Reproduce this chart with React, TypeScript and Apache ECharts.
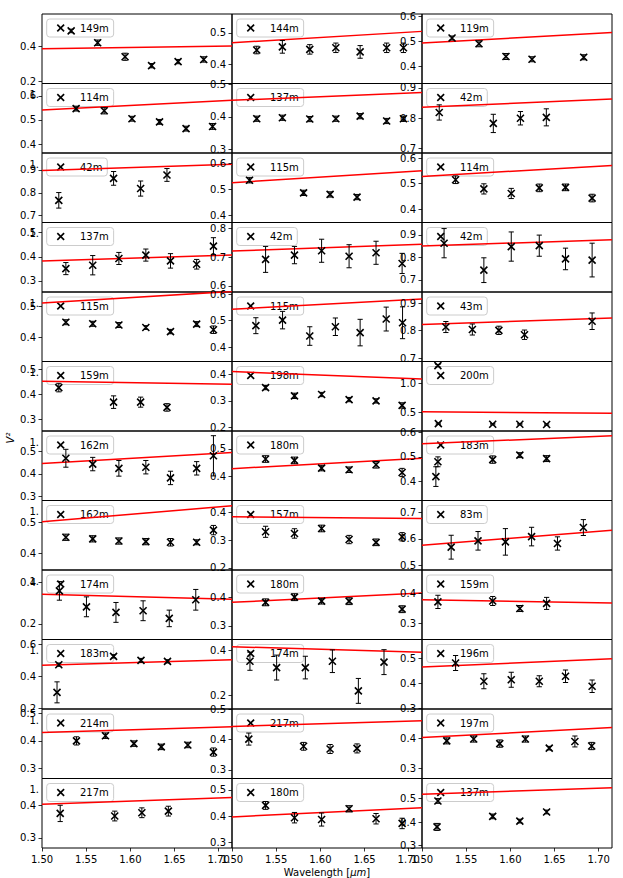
import React, { useEffect, useRef } from "react";
import * as echarts from "echarts";

type Pt = [number, number, number]; // [wavelength (µm), V², error]

// ---------- data ----------
const baselines = [
  "149m", "144m", "119m",
  "114m", "137m", "42m",
  "42m", "115m", "114m",
  "137m", "42m", "42m",
  "115m", "115m", "43m",
  "159m", "198m", "200m",
  "162m", "180m", "183m",
  "162m", "157m", "83m",
  "174m", "180m", "159m",
  "183m", "174m", "196m",
  "214m", "217m", "197m",
  "217m", "180m", "137m",
];

const p01: Pt[] = [[1.533, 0.485, 0.01], [1.563, 0.419, 0.015], [1.594, 0.34, 0.02], [1.624, 0.29, 0.012], [1.654, 0.313, 0.012], [1.683, 0.325, 0.015]];
const p02: Pt[] = [[1.528, 0.446, 0.012], [1.557, 0.456, 0.02], [1.588, 0.448, 0.015], [1.6175, 0.453, 0.015], [1.645, 0.44, 0.02], [1.675, 0.453, 0.015], [1.694, 0.453, 0.015]];
const p03: Pt[] = [[1.534, 0.512, 0.008], [1.5645, 0.489, 0.012], [1.595, 0.438, 0.012], [1.6245, 0.427, 0.01], [1.683, 0.435, 0.01]];
const p04: Pt[] = [[1.5386, 0.547, 0.01], [1.5704, 0.538, 0.013], [1.6018, 0.505, 0.01], [1.633, 0.492, 0.01], [1.663, 0.464, 0.01], [1.693, 0.473, 0.012]];
const p05: Pt[] = [[1.528, 0.394, 0.008], [1.557, 0.397, 0.008], [1.588, 0.393, 0.008], [1.6175, 0.394, 0.008], [1.645, 0.402, 0.008], [1.675, 0.387, 0.008], [1.694, 0.394, 0.008]];
const p06: Pt[] = [[1.5195, 0.819, 0.025], [1.5807, 0.783, 0.03], [1.6114, 0.8, 0.022], [1.6407, 0.803, 0.028]];
const p07: Pt[] = [[1.519, 0.767, 0.034], [1.581, 0.863, 0.03], [1.6116, 0.8185, 0.033], [1.6414, 0.878, 0.028]];
const p08: Pt[] = [[1.5198, 0.535, 0.01], [1.581, 0.487, 0.01], [1.611, 0.481, 0.01], [1.6415, 0.471, 0.01]];
const p09: Pt[] = [[1.538, 0.515, 0.015], [1.57, 0.479, 0.02], [1.601, 0.461, 0.02], [1.6327, 0.483, 0.015], [1.6624, 0.485, 0.013], [1.6925, 0.443, 0.015]];
const p10: Pt[] = [[1.527, 0.351, 0.025], [1.5574, 0.365, 0.04], [1.587, 0.393, 0.025], [1.6175, 0.407, 0.025], [1.6454, 0.383, 0.03], [1.675, 0.369, 0.02], [1.694, 0.444, 0.035]];
const p11: Pt[] = [[1.538, 0.692, 0.045], [1.5707, 0.707, 0.03], [1.6014, 0.722, 0.04], [1.6325, 0.703, 0.04], [1.663, 0.715, 0.04], [1.6925, 0.678, 0.035]];
const p12: Pt[] = [[1.525, 0.863, 0.065], [1.57, 0.743, 0.055], [1.601, 0.848, 0.065], [1.6327, 0.852, 0.047], [1.6624, 0.793, 0.048], [1.6925, 0.788, 0.075]];
const p13: Pt[] = [[1.527, 0.449, 0.008], [1.5574, 0.444, 0.008], [1.587, 0.44, 0.008], [1.6175, 0.432, 0.006], [1.6454, 0.419, 0.007], [1.675, 0.443, 0.008], [1.694, 0.425, 0.012]];
const p14: Pt[] = [[1.527, 0.481, 0.03], [1.5572, 0.502, 0.033], [1.588, 0.442, 0.035], [1.617, 0.477, 0.033], [1.645, 0.455, 0.05], [1.6745, 0.506, 0.045], [1.693, 0.492, 0.06]];
const p15: Pt[] = [[1.527, 0.813, 0.02], [1.557, 0.804, 0.02], [1.587, 0.801, 0.015], [1.616, 0.785, 0.017], [1.6925, 0.834, 0.03]];
const p16: Pt[] = [[1.519, 0.426, 0.017], [1.581, 0.368, 0.025], [1.6116, 0.368, 0.02], [1.6414, 0.347, 0.015]];
const p17: Pt[] = [[1.538, 0.35, 0.008], [1.5707, 0.319, 0.01], [1.6014, 0.324, 0.008], [1.6325, 0.305, 0.008], [1.663, 0.3, 0.008], [1.6925, 0.283, 0.01]];
const p18: Pt[] = [[1.518, 1.3, 0.02], [1.5185, 0.315, 0.01], [1.58, 0.305, 0.01], [1.6107, 0.305, 0.01], [1.641, 0.3, 0.01]];
const p19: Pt[] = [[1.527, 0.47, 0.04], [1.5574, 0.444, 0.03], [1.587, 0.425, 0.035], [1.6175, 0.43, 0.03], [1.6454, 0.382, 0.03], [1.675, 0.425, 0.03], [1.694, 0.481, 0.09]];
const p20: Pt[] = [[1.538, 0.463, 0.012], [1.5707, 0.458, 0.012], [1.6014, 0.43, 0.01], [1.6325, 0.424, 0.01], [1.663, 0.442, 0.012], [1.6925, 0.414, 0.015]];
const p21: Pt[] = [[1.5157, 0.42, 0.04], [1.518, 0.48, 0.02], [1.58, 0.489, 0.015], [1.6107, 0.507, 0.01], [1.641, 0.493, 0.012]];
const p22: Pt[] = [[1.527, 0.452, 0.01], [1.5574, 0.447, 0.01], [1.587, 0.44, 0.01], [1.6175, 0.438, 0.01], [1.6454, 0.436, 0.012], [1.675, 0.436, 0.008], [1.694, 0.475, 0.015]];
const p23: Pt[] = [[1.538, 0.33, 0.02], [1.5707, 0.324, 0.017], [1.6014, 0.342, 0.012], [1.6325, 0.302, 0.015], [1.663, 0.292, 0.012], [1.6925, 0.312, 0.015]];
const p24: Pt[] = [[1.533, 0.569, 0.045], [1.5634, 0.593, 0.035], [1.5944, 0.589, 0.05], [1.624, 0.609, 0.035], [1.6533, 0.583, 0.025], [1.6826, 0.643, 0.03]];
const p25: Pt[] = [[1.5197, 0.36, 0.045], [1.5503, 0.283, 0.048], [1.5837, 0.256, 0.048], [1.6144, 0.264, 0.048], [1.644, 0.227, 0.04], [1.674, 0.317, 0.05]];
const p26: Pt[] = [[1.538, 0.382, 0.012], [1.5707, 0.4, 0.012], [1.6014, 0.386, 0.01], [1.6325, 0.386, 0.012], [1.6925, 0.358, 0.012]];
const p27: Pt[] = [[1.518, 0.371, 0.022], [1.58, 0.374, 0.015], [1.6107, 0.349, 0.01], [1.641, 0.366, 0.02]];
const p28: Pt[] = [[1.517, 0.301, 0.065], [1.519, 0.472, 0.01], [1.581, 0.524, 0.01], [1.612, 0.499, 0.012], [1.642, 0.493, 0.01]];
const p29: Pt[] = [[1.5203, 0.352, 0.04], [1.5505, 0.324, 0.055], [1.583, 0.324, 0.05], [1.6136, 0.352, 0.05], [1.643, 0.221, 0.055], [1.672, 0.348, 0.055]];
const p30: Pt[] = [[1.538, 0.48, 0.03], [1.57, 0.407, 0.03], [1.601, 0.413, 0.03], [1.6327, 0.407, 0.022], [1.6624, 0.427, 0.025], [1.6925, 0.387, 0.025]];
const p31: Pt[] = [[1.539, 0.4, 0.015], [1.5718, 0.419, 0.01], [1.604, 0.39, 0.01], [1.635, 0.378, 0.01], [1.665, 0.385, 0.01], [1.694, 0.359, 0.015]];
const p32: Pt[] = [[1.519, 0.402, 0.02], [1.581, 0.378, 0.013], [1.611, 0.369, 0.015], [1.6415, 0.371, 0.015]];
const p33: Pt[] = [[1.528, 0.391, 0.01], [1.5585, 0.397, 0.01], [1.588, 0.382, 0.012], [1.617, 0.397, 0.01], [1.644, 0.367, 0.006], [1.673, 0.389, 0.018], [1.692, 0.374, 0.012]];
const p34: Pt[] = [[1.5206, 0.375, 0.025], [1.5823, 0.367, 0.015], [1.613, 0.377, 0.015], [1.643, 0.382, 0.015]];
const p35: Pt[] = [[1.538, 0.441, 0.015], [1.5707, 0.394, 0.02], [1.6014, 0.387, 0.025], [1.6325, 0.428, 0.012], [1.663, 0.39, 0.02], [1.6925, 0.372, 0.02]];
const p36: Pt[] = [[1.517, 0.379, 0.015], [1.518, 0.49, 0.01], [1.58, 0.424, 0.01], [1.6107, 0.404, 0.008], [1.641, 0.443, 0.008]];

const panels: Pt[][] = [
  p01, p02, p03, p04, p05, p06, p07, p08, p09, p10, p11, p12,
  p13, p14, p15, p16, p17, p18, p19, p20, p21, p22, p23, p24,
  p25, p26, p27, p28, p29, p30, p31, p32, p33, p34, p35, p36,
];

// model (red line) V² at the two ends of the wavelength range
const modelLeft = [
  0.385, 0.469, 0.492, 0.541, 0.451, 0.836, 0.897, 0.526, 0.528, 0.382, 0.721, 0.851,
  0.511, 0.543, 0.822, 0.451, 0.41, 0.517, 0.447, 0.428, 0.553, 0.502, 0.384, 0.576,
  0.344, 0.382, 0.378, 0.468, 0.416, 0.464, 0.431, 0.444, 0.402, 0.403, 0.397, 0.519,
];
const modelRight = [
  0.4, 0.505, 0.534, 0.582, 0.475, 0.863, 0.925, 0.571, 0.571, 0.407, 0.745, 0.878,
  0.548, 0.582, 0.846, 0.439, 0.382, 0.49, 0.496, 0.466, 0.586, 0.553, 0.378, 0.633,
  0.32, 0.415, 0.367, 0.503, 0.392, 0.497, 0.452, 0.463, 0.435, 0.424, 0.432, 0.547,
];

const yMin = [
  0.19, 0.34, 0.33, 0.363, 0.288, 0.686, 0.67, 0.374, 0.347, 0.254, 0.579, 0.646,
  0.323, 0.346, 0.688, 0.253, 0.187, 0.19, 0.281, 0.312, 0.323, 0.347, 0.192, 0.483,
  0.125, 0.252, 0.246, 0.198, 0.141, 0.296, 0.262, 0.271, 0.267, 0.269, 0.278, 0.289,
];
const yMax = [
  0.58, 0.56, 0.608, 0.651, 0.503, 0.914, 0.974, 0.639, 0.62, 0.542, 0.82, 0.955,
  0.546, 0.608, 0.94, 0.53, 0.448, 1.37, 0.592, 0.565, 0.605, 0.57, 0.443, 0.745,
  0.461, 0.495, 0.477, 0.628, 0.448, 0.574, 0.517, 0.502, 0.496, 0.482, 0.544, 0.586,
];
const yTicks: number[][] = [
  [0.2, 0.4], [0.4, 0.5], [0.4, 0.5, 0.6],
  [0.4, 0.5, 0.6], [0.3, 0.4, 0.5], [0.7, 0.8, 0.9],
  [0.7, 0.8, 0.9], [0.4, 0.5, 0.6], [0.4, 0.5, 0.6],
  [0.3, 0.4, 0.5], [0.6, 0.7, 0.8], [0.7, 0.8, 0.9],
  [0.4, 0.5], [0.4, 0.5, 0.6], [0.7, 0.8, 0.9],
  [0.3, 0.4, 0.5], [0.2, 0.3, 0.4], [0.5, 1.0],
  [0.3, 0.4, 0.5], [0.4, 0.5], [0.4, 0.5, 0.6],
  [0.4, 0.5], [0.2, 0.3, 0.4], [0.5, 0.6, 0.7],
  [0.2, 0.4], [0.3, 0.4], [0.3, 0.4],
  [0.2, 0.4, 0.6], [0.2, 0.4], [0.3, 0.4, 0.5],
  [0.3, 0.4, 0.5], [0.3, 0.4, 0.5], [0.3, 0.4],
  [0.3, 0.4], [0.3, 0.4, 0.5], [0.3, 0.4, 0.5],
];
const xTicks = [1.5, 1.55, 1.6, 1.65, 1.7];
const X_MIN = 1.5;
const X_MAX = 1.715;

// ---------- layout ----------
const FONT = "DejaVu Sans";
const N_COLS = 3;
const N_ROWS = 12;
const GRID_LEFT = 42;
const GRID_TOP = 14;
const COL_W = 190;
const ROW_H = 69.5;
const X_PATH = "path://M0,0L10,10M10,0L0,10";

let measureCtx: CanvasRenderingContext2D | null = null;
function textWidth(s: string): number {
  if (!measureCtx) {
    measureCtx = document.createElement("canvas").getContext("2d");
  }
  if (!measureCtx) return s.length * 7;
  measureCtx.font = `10px "${FONT}"`;
  return measureCtx.measureText(s).width;
}

function legendBox(label: string, x: number, y: number) {
  const h = 18;
  const tx = 33.3;
  const w = tx + textWidth(label) + 4.8;
  const cx = 14, cy = h / 2, m = 3.4;
  const stroke = { stroke: "#000", lineWidth: 1.6 };
  return {
    type: "group", x, y, z: 3,
    children: [
      {
        type: "rect", z: 3,
        shape: { x: 0, y: 0, width: w, height: h, r: 3 },
        style: { fill: "rgba(255,255,255,0.8)", stroke: "#cccccc", lineWidth: 1 },
      },
      { type: "line", z: 3, shape: { x1: cx - m, y1: cy - m, x2: cx + m, y2: cy + m }, style: stroke },
      { type: "line", z: 3, shape: { x1: cx - m, y1: cy + m, x2: cx + m, y2: cy - m }, style: stroke },
      {
        type: "text", z: 3, x: tx, y: cy,
        style: { text: label, fill: "#000", font: `10px "${FONT}"`, align: "left", verticalAlign: "middle" },
      },
    ],
  };
}

function buildOption() {
  const grid: any[] = [];
  const xAxis: any[] = [];
  const yAxis: any[] = [];
  const series: any[] = [];
  const graphic: any[] = [];

  panels.forEach((pts, i) => {
    const r = Math.floor(i / N_COLS);
    const c = i % N_COLS;
    const left = GRID_LEFT + c * COL_W;
    const top = GRID_TOP + r * ROW_H;
    const isBottom = r === N_ROWS - 1;

    grid.push({
      left, top, width: COL_W, height: ROW_H,
      show: true, borderColor: "#000", borderWidth: 1,
      backgroundColor: "transparent",
      containLabel: false, outerBoundsMode: "none",
    });

    xAxis.push({
      type: "value", gridIndex: i, min: X_MIN, max: X_MAX,
      axisLine: { show: false },
      splitLine: { show: false },
      axisTick: {
        show: isBottom, length: 3.5, inside: false,
        customValues: xTicks, lineStyle: { color: "#000", width: 0.8 },
      },
      axisLabel: {
        show: isBottom, customValues: xTicks, margin: 6,
        formatter: (v: number) => v.toFixed(2),
        fontSize: 10, color: "#000", fontFamily: FONT,
      },
      ...(isBottom && c === 1
        ? {
            name: "Wavelength [{i|μm}]",
            nameLocation: "middle",
            nameGap: 19,
            nameTextStyle: {
              fontSize: 10, color: "#000", fontFamily: FONT,
              rich: { i: { fontSize: 10, fontStyle: "italic", color: "#000", fontFamily: FONT } },
            },
          }
        : {}),
    });

    yAxis.push({
      type: "value", gridIndex: i, min: yMin[i], max: yMax[i],
      axisLine: { show: false },
      splitLine: { show: false },
      axisTick: {
        show: true, length: 3.5, inside: false,
        customValues: yTicks[i], lineStyle: { color: "#000", width: 0.8 },
      },
      axisLabel: {
        show: true, customValues: yTicks[i], margin: 6,
        formatter: (v: number) => v.toFixed(1),
        fontSize: 10, color: "#000", fontFamily: FONT,
      },
      z: 8,
    });

    // model line
    series.push({
      type: "line", name: "model" + i, xAxisIndex: i, yAxisIndex: i,
      data: [[X_MIN, modelLeft[i]], [X_MAX, modelRight[i]]],
      symbol: "none", showSymbol: false, silent: true,
      lineStyle: { color: "#ff0000", width: 1.5 },
      z: 5, clip: true,
    });

    // error bars
    series.push({
      type: "custom", name: "err" + i, xAxisIndex: i, yAxisIndex: i,
      data: pts, encode: { x: 0, y: 1 }, clip: true, silent: true, z: 6,
      renderItem: (_params: any, api: any) => {
        const x = api.value(0);
        const y = api.value(1);
        const e = api.value(2);
        const hi = api.coord([x, y + e]);
        const lo = api.coord([x, y - e]);
        const cap = 2.6;
        const st = { stroke: "#000", lineWidth: 1 };
        return {
          type: "group",
          children: [
            { type: "line", shape: { x1: hi[0], y1: hi[1], x2: lo[0], y2: lo[1] }, style: st },
            { type: "line", shape: { x1: hi[0] - cap, y1: hi[1], x2: hi[0] + cap, y2: hi[1] }, style: st },
            { type: "line", shape: { x1: lo[0] - cap, y1: lo[1], x2: lo[0] + cap, y2: lo[1] }, style: st },
          ],
        };
      },
    });

    // data points
    series.push({
      type: "scatter", name: baselines[i], xAxisIndex: i, yAxisIndex: i,
      data: pts.map((p) => [p[0], p[1]]),
      symbol: X_PATH, symbolSize: 7, silent: true,
      itemStyle: { color: "rgba(0,0,0,0)", borderColor: "#000", borderWidth: 1.6, opacity: 1 },
      z: 7,
    });

    graphic.push(legendBox(baselines[i], left + 4.7, top + 5));

    if (c === 0 && r > 0) {
      graphic.push({
        type: "text", x: 39, y: top + 11, z: 9,
        style: { text: "1.", fill: "#000", font: `10px "${FONT}"`, align: "right", verticalAlign: "middle" },
      });
    }
  });

  graphic.push({
    type: "text", x: 10, y: 438, rotation: Math.PI / 2, z: 9,
    style: {
      text: "V²", fill: "#000", align: "center", verticalAlign: "middle",
      font: `italic 10px "${FONT}"`,
    },
  });

  return {
    animation: false,
    backgroundColor: "#ffffff",
    textStyle: { fontFamily: FONT },
    grid, xAxis, yAxis, series, graphic,
  };
}

export default function App() {
  const ref = useRef<HTMLDivElement>(null);
  useEffect(() => {
    if (!ref.current) return;
    const chart = echarts.init(ref.current, null, { renderer: "svg" });
    chart.setOption(buildOption() as any);
    return () => chart.dispose();
  }, []);
  return (
    <div
      ref={ref}
      style={{ position: "absolute", left: 0, top: 0, width: 623, height: 878, background: "#fff" }}
    />
  );
}
